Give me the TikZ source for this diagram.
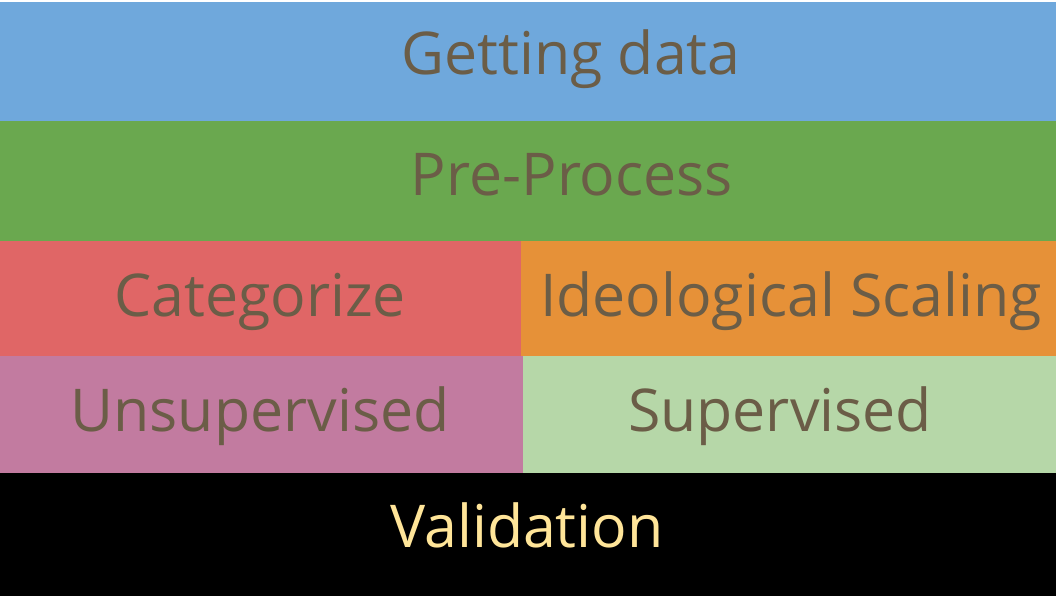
\documentclass[tikz,border=0pt]{standalone}
\usepackage{fontspec}
\setmainfont{Open Sans}
\definecolor{cblue}{HTML}{6FA8DC}
\definecolor{cgreen}{HTML}{6AA84F}
\definecolor{cred}{HTML}{E06666}
\definecolor{corange}{HTML}{E69138}
\definecolor{cpurple}{HTML}{C27BA0}
\definecolor{clgreen}{HTML}{B6D7A8}
\definecolor{ctext}{HTML}{6B5D47}
\definecolor{cval}{HTML}{FFE599}
\begin{document}
\begin{tikzpicture}[x=1pt,y=-1pt,
  band/.style={draw=none,inner sep=0pt,outer sep=0pt,anchor=north west},
  lbl/.style={inner sep=0pt,anchor=base,text=ctext,font=\fontsize{59}{70}\selectfont}]
\useasboundingbox (0,0) rectangle (1056,596);
\node[band,fill=cblue,minimum width=1056pt,minimum height=119pt] (getting) at (0,2) {};
\node[band,fill=cgreen,minimum width=1056pt,minimum height=120pt] (pre) at (0,121) {};
\node[band,fill=cred,minimum width=521pt,minimum height=115pt] (cat) at (0,241) {};
\node[band,fill=corange,minimum width=535pt,minimum height=115pt] (ideo) at (521,241) {};
\node[band,fill=cpurple,minimum width=523pt,minimum height=117pt] (unsup) at (0,356) {};
\node[band,fill=clgreen,minimum width=533pt,minimum height=117pt] (sup) at (523,356) {};
\node[band,fill=black,minimum width=1056pt,minimum height=123pt] (val) at (0,473) {};
\node[lbl] (tget) at (571,75) {Getting data};
\node[lbl] (tpre) at (572,195) {Pre-Process};
\node[lbl] (tcat) at (260,316) {Categorize};
\node[lbl] (tideo) at (791,316) {Ideological Scaling};
\node[lbl] (tunsup) at (260,431) {Unsupervised};
\node[lbl] (tsup) at (780,431) {Supervised};
\node[lbl,text=cval] (tval) at (527,547) {Validation};
\end{tikzpicture}
\end{document}
